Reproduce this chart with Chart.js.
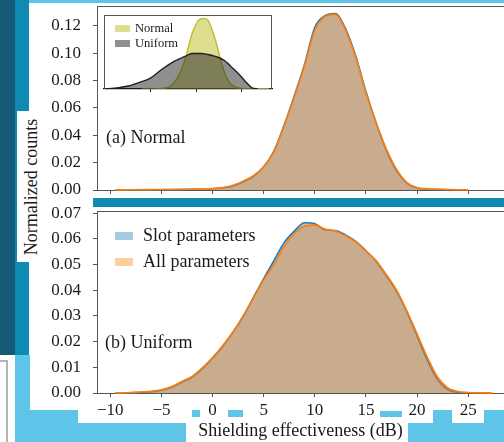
<!DOCTYPE html>
<html lang="es">
<head>
<meta charset="utf-8">
<title>Shielding effectiveness</title>
<script src="https://cdn.jsdelivr.net/npm/chart.js@4.4.1/dist/chart.umd.min.js"></script>
<style>
  html, body { margin: 0; padding: 0; background: #fff; }
  body { width: 504px; height: 442px; position: relative; overflow: hidden; font-family: 'Liberation Serif', 'Times New Roman', serif; }
  .deco { position: absolute; }
  .oscuro { background: #175a76; }
  .medio { background: #0e8ab3; }
  .claro { background: #5ec4e8; }
  canvas { position: absolute; }
  #ylabel { position: absolute; left: 31px; top: 187px; transform: translate(-50%, -50%) rotate(-90deg); font-size: 18px; white-space: nowrap; color: #1a1a1a; }
</style>
</head>
<body>
<!-- fondo decorativo de la diapositiva -->
<div class="deco claro" style="left:29px;top:0;width:475px;height:3px"></div>
<div class="deco oscuro" style="left:0;top:0;width:15px;height:355px"></div>
<div class="deco medio" style="left:15px;top:0;width:14px;height:111px"></div>
<div class="deco medio" style="left:15px;top:111px;width:2px;height:151px"></div>
<div class="deco medio" style="left:15px;top:262px;width:14px;height:93px"></div>
<div class="deco medio" style="left:93px;top:198px;width:411px;height:9px"></div>
<div class="deco claro" style="left:15px;top:355px;width:15px;height:87px"></div>
<div class="deco claro" style="left:30px;top:410px;width:48px;height:32px"></div>
<div class="deco claro" style="left:78px;top:423px;width:108px;height:19px"></div>
<div class="deco claro" style="left:408px;top:423px;width:96px;height:19px"></div>
<div class="deco claro" style="left:433px;top:410px;width:19px;height:13px"></div>
<div class="deco claro" style="left:484px;top:410px;width:20px;height:13px"></div>
<div class="deco claro" style="left:380px;top:411px;width:22px;height:6px"></div>
<div class="deco claro" style="left:192px;top:410px;width:8px;height:7px"></div>
<div class="deco claro" style="left:228px;top:410px;width:15px;height:7px"></div>
<div class="deco" style="left:-6px;top:360px;width:10px;height:90px;border:2px solid #b4b4b4"></div>

<div id="ylabel">Normalized counts</div>
<canvas id="panelA" width="504" height="200" style="left:0;top:0"></canvas>
<canvas id="panelB" width="504" height="242" style="left:0;top:200px"></canvas>
<canvas id="inset" width="176" height="84" style="left:100px;top:12px"></canvas>

<script>
// ---- Datos ----
const xTicks = [-10, -5, 0, 5, 10, 15, 20, 25];
const yTicksA = [0, 0.02, 0.04, 0.06, 0.08, 0.10, 0.12];
const yTicksB = [0, 0.01, 0.02, 0.03, 0.04, 0.05, 0.06, 0.07];
const insetTicks = [0, 1, 2];

// (a) Normal: densidad de la efectividad de blindaje (dB)
const xA = [-9.5, -8, -6, -4, -2, 0, 1, 2, 3, 4, 5, 6, 7, 8, 9, 10, 11, 12, 13, 14, 15, 16, 17, 18, 19, 20, 21, 22, 23, 24, 25];
const slotA = [0, 0.0001, 0.0002, 0.0003, 0.0005, 0.0009, 0.0016, 0.0030, 0.0060, 0.0100, 0.0170, 0.0285, 0.0475, 0.0690, 0.0920, 0.1190, 0.1275, 0.1290, 0.1180, 0.0980, 0.0720, 0.0490, 0.0290, 0.0140, 0.0050, 0.0015, 0.0006, 0.0003, 0.0001, null, null];
const allA = [0, 0.0002, 0.0003, 0.0004, 0.0006, 0.0010, 0.0018, 0.0035, 0.0065, 0.0105, 0.0170, 0.0280, 0.0470, 0.0680, 0.0910, 0.1170, 0.1270, 0.1285, 0.1170, 0.0970, 0.0710, 0.0490, 0.0300, 0.0150, 0.0055, 0.0018, 0.0009, 0.0006, 0.0004, 0.0002, 0.0001];

// (b) Uniform
const xB = [-9.5, -8, -6, -5, -4, -3, -2, -1, 0, 1, 2, 3, 4, 5, 6, 7, 8, 9, 10, 11, 12, 13, 14, 15, 16, 17, 18, 19, 20, 21, 22, 23, 24, 25, 26, 27.4];
const slotB = [0, 0.0001, 0.0005, 0.0011, 0.0022, 0.0042, 0.0062, 0.0095, 0.0135, 0.0182, 0.0236, 0.0298, 0.0372, 0.0445, 0.0515, 0.0585, 0.0630, 0.0662, 0.0658, 0.0635, 0.0632, 0.0615, 0.0590, 0.0553, 0.0512, 0.0455, 0.0395, 0.0315, 0.0222, 0.0128, 0.0052, 0.0013, 0.0002, 0, null, null];
const allB = [0, 0.0002, 0.0007, 0.0013, 0.0025, 0.0045, 0.0065, 0.0098, 0.0138, 0.0185, 0.0238, 0.0300, 0.0370, 0.0440, 0.0500, 0.0570, 0.0620, 0.0650, 0.0653, 0.0638, 0.0630, 0.0612, 0.0588, 0.0552, 0.0515, 0.0460, 0.0400, 0.0320, 0.0230, 0.0140, 0.0062, 0.0020, 0.0006, 0.0002, 0.0001, 0];

// Recuadro: distribuciones de entrada (unidades relativas)
const xNormal = [-0.2, 0.1, 0.3, 0.45, 0.6, 0.75, 0.9, 1.05, 1.15, 1.25, 1.35, 1.45, 1.55, 1.7, 1.85, 2.0, 2.3, 2.6];
const densNormal = [0, 0.002, 0.01, 0.05, 0.17, 0.40, 0.74, 0.93, 0.955, 0.93, 0.79, 0.59, 0.35, 0.11, 0.03, 0.008, 0.002, 0];
const xUniforme = [-1.0, -0.8, -0.5, -0.25, 0, 0.25, 0.5, 0.75, 0.9, 1.1, 1.3, 1.6, 1.8, 1.95, 2.1, 2.22, 2.35];
const densUniforme = [0, 0.01, 0.04, 0.09, 0.15, 0.27, 0.37, 0.44, 0.48, 0.48, 0.46, 0.39, 0.28, 0.19, 0.085, 0.015, 0];

// ---- Estilo ----
const FUENTE = "'Liberation Serif', 'Times New Roman', serif";
const TEXTO = '#1a1a1a';
const EJE = '#555';
const AZUL = '#1f77b4', AZUL_R = 'rgba(31,119,180,0.4)';
const NARANJA = '#ff7f0e', NARANJA_R = 'rgba(255,127,14,0.4)';

/**
 * Dibuja la línea superior del marco (o las cuatro) y un fondo opcional.
 */
const marco = {
  id: 'marco',
  beforeDatasetsDraw(chart, args, opts) {
    const { ctx, chartArea: a } = chart;
    ctx.save();
    ctx.strokeStyle = opts.color || EJE;
    ctx.lineWidth = 1;
    ctx.beginPath();
    const t = Math.round(a.top) + 0.5;
    ctx.moveTo(a.left, t);
    ctx.lineTo(a.right, t);
    if (opts.completo) {
      const r = Math.round(a.right) - 0.5;
      ctx.moveTo(r, a.top);
      ctx.lineTo(r, a.bottom);
      const l = Math.round(a.left) + 0.5;
      ctx.moveTo(l, a.top);
      ctx.lineTo(l, a.bottom);
    }
    ctx.stroke();
    ctx.restore();
  },
  beforeDraw(chart, args, opts) {
    if (!opts.fondo) return;
    const { ctx, chartArea: a } = chart;
    ctx.save();
    ctx.fillStyle = opts.fondo;
    ctx.fillRect(a.left, a.top, a.right - a.left, a.bottom - a.top);
    ctx.restore();
  }
};

/**
 * Leyenda y rótulo dentro del área del gráfico (posiciones relativas al chartArea).
 */
const rotulos = {
  id: 'rotulos',
  afterDraw(chart, args, opts) {
    const { ctx, chartArea: a } = chart;
    ctx.save();
    ctx.fillStyle = TEXTO;
    ctx.textBaseline = 'middle';
    if (opts.panel) {
      ctx.font = '18px ' + FUENTE;
      ctx.fillText(opts.panel, a.left + opts.panelX, a.top + opts.panelY);
    }
    (opts.items || []).forEach((it, i) => {
      const y = a.top + opts.y + i * opts.paso;
      ctx.fillStyle = it.color;
      ctx.fillRect(a.left + opts.x, y - opts.alto / 2, opts.ancho, opts.alto);
      ctx.fillStyle = TEXTO;
      ctx.font = opts.tam + 'px ' + FUENTE;
      ctx.fillText(it.texto, a.left + opts.textoX, y);
    });
    ctx.restore();
  }
};

function puntos(xs, ys) {
  return xs.map((x, i) => ({ x, y: ys[i] }));
}

function serie(xs, ys, etiqueta, linea, relleno, orden) {
  return {
    label: etiqueta,
    data: puntos(xs, ys),
    borderColor: linea,
    backgroundColor: relleno,
    fill: 'origin',
    borderWidth: 1.6,
    pointRadius: 0,
    cubicInterpolationMode: 'monotone',
    order: orden,
    clip: { left: 0, top: 0, right: 0, bottom: 3 }
  };
}

function fmtX(v) {
  return v < 0 ? '\u2212' + Math.abs(v) : String(v);
}

// Las escalas no deben reservar margen extra por las etiquetas: el área queda fija
function sinMargen(s) {
  s.paddingTop = 0;
  s.paddingBottom = 0;
  s.paddingLeft = 0;
  s.paddingRight = 0;
}

function escalaX(conEtiquetas) {
  return {
    type: 'linear',
    min: -11.3,
    max: 28.5,
    afterBuildTicks: s => { s.ticks = xTicks.map(v => ({ value: v })); },
    afterFit: s => { s.height = conEtiquetas ? 49 : 10; sinMargen(s); },
    grid: { drawOnChartArea: false, drawTicks: true, tickLength: 4, tickColor: EJE },
    border: { color: EJE, width: 1 },
    ticks: { display: conEtiquetas, padding: 3, color: TEXTO, font: { family: FUENTE, size: 17 }, callback: v => fmtX(v) },
    title: {
      display: conEtiquetas,
      text: 'Shielding effectiveness (dB)',
      color: TEXTO,
      font: { family: FUENTE, size: 18 },
      padding: { top: 0, bottom: 0 }
    }
  };
}

function escalaY(max, marcas) {
  return {
    type: 'linear',
    min: 0,
    max,
    afterBuildTicks: s => { s.ticks = marcas.map(v => ({ value: v })); },
    afterFit: s => { s.width = 97; sinMargen(s); },
    grid: { drawOnChartArea: false, drawTicks: true, tickLength: 4, tickColor: EJE },
    border: { color: EJE, width: 1 },
    ticks: { padding: 12, color: TEXTO, font: { family: FUENTE, size: 17 }, callback: v => v.toFixed(2) }
  };
}

function crearPanel(id, xs, slot, all, cfg) {
  const canvas = document.getElementById(id);
  return new Chart(canvas.getContext('2d'), {
    type: 'line',
    data: {
      datasets: [
        serie(xs, slot, 'Slot parameters', AZUL, AZUL_R, 1),
        serie(xs, all, 'All parameters', NARANJA, NARANJA_R, 0)
      ]
    },
    options: {
      responsive: false,
      animation: false,
      devicePixelRatio: 1,
      layout: { padding: { top: cfg.arriba, left: 0, right: 0, bottom: 0 } },
      scales: { x: escalaX(cfg.etiquetasX), y: escalaY(cfg.maxY, cfg.marcasY) },
      plugins: {
        legend: { display: false },
        tooltip: { enabled: false },
        marco: {},
        rotulos: cfg.rotulos
      }
    },
    plugins: [marco, rotulos]
  });
}

crearPanel('panelA', xA, slotA, allA, {
  arriba: 6, etiquetasX: false, maxY: 0.1346, marcasY: yTicksA,
  rotulos: { panel: '(a) Normal', panelX: 9, panelY: 132 }
});

crearPanel('panelB', xB, slotB, allB, {
  arriba: 11, etiquetasX: true, maxY: 0.0708, marcasY: yTicksB,
  rotulos: {
    panel: '(b) Uniform', panelX: 8, panelY: 132,
    items: [{ texto: 'Slot parameters', color: AZUL_R }, { texto: 'All parameters', color: NARANJA_R }],
    x: 18, y: 25, paso: 26, ancho: 18, alto: 8, textoX: 46, tam: 18
  }
});

// Recuadro con las distribuciones de entrada
const AMARILLO = '#bcbd22', AMARILLO_R = 'rgba(188,189,34,0.5)';
const GRIS = '#1f1f1f', GRIS_R = 'rgba(31,31,31,0.5)';

new Chart(document.getElementById('inset').getContext('2d'), {
  type: 'line',
  data: {
    datasets: [
      {
        label: 'Normal', data: puntos(xNormal, densNormal), borderColor: AMARILLO, backgroundColor: AMARILLO_R,
        fill: 'origin', borderWidth: 1.4, pointRadius: 0, cubicInterpolationMode: 'monotone', order: 1
      },
      {
        label: 'Uniform', data: puntos(xUniforme, densUniforme), borderColor: GRIS, backgroundColor: GRIS_R,
        fill: 'origin', borderWidth: 1.4, pointRadius: 0, cubicInterpolationMode: 'monotone', order: 0
      }
    ]
  },
  options: {
    responsive: false,
    animation: false,
    devicePixelRatio: 1,
    layout: { padding: { top: 3, left: 4, right: 4, bottom: 0 } },
    scales: {
      x: {
        type: 'linear', min: -1.03, max: 2.66,
        afterBuildTicks: s => { s.ticks = insetTicks.map(v => ({ value: v })); },
        afterFit: s => { s.height = 7; sinMargen(s); },
        grid: { drawOnChartArea: false, drawTicks: true, tickLength: 3, tickColor: '#222' },
        border: { color: '#111', width: 1.2 },
        ticks: { display: false }
      },
      y: { type: 'linear', min: 0, max: 1.0, display: false }
    },
    plugins: {
      legend: { display: false },
      tooltip: { enabled: false },
      marco: { completo: true, fondo: '#fff', color: '#555' },
      rotulos: {
        items: [{ texto: 'Normal', color: AMARILLO_R }, { texto: 'Uniform', color: GRIS_R }],
        x: 11, y: 13.5, paso: 15, ancho: 15, alto: 7, textoX: 31, tam: 12.5
      }
    }
  },
  plugins: [marco, rotulos]
});
</script>
</body>
</html>
